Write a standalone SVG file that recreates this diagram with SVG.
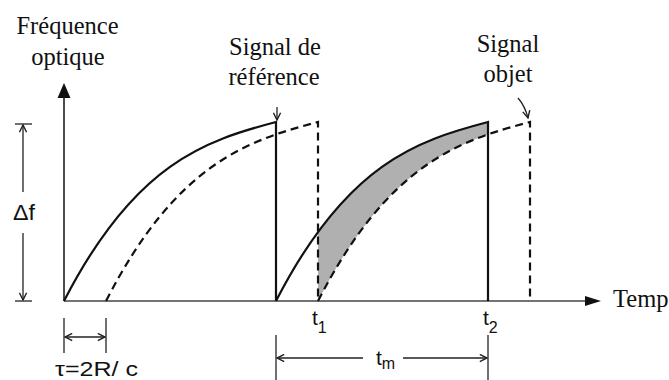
<svg xmlns="http://www.w3.org/2000/svg" width="669" height="380" viewBox="0 0 669 380">
<style>
.serif{font-family:"Liberation Serif","Times New Roman",serif;font-size:24.5px;fill:#111;text-anchor:middle}
.sans{font-family:"Liberation Sans",Arial,sans-serif;fill:#111}
.curve{fill:none;stroke:#111;stroke-width:2.2}
.dash{fill:none;stroke:#111;stroke-width:2.2;stroke-dasharray:8 5}
.thin{fill:none;stroke:#222;stroke-width:1.3}
.dim{fill:none;stroke:#222;stroke-width:1.3;marker-end:url(#open)}
</style>
<defs>
<marker id="open" viewBox="0 0 10 10" refX="9" refY="5" markerWidth="9" markerHeight="9" markerUnits="userSpaceOnUse" orient="auto-start-reverse">
<path d="M1,1 L9,5 L1,9" fill="none" stroke="#222" stroke-width="1.6"/>
</marker>
<clipPath id="band"><rect x="318" y="100" width="170" height="202"/></clipPath>
</defs>
<rect width="669" height="380" fill="#fff"/>

<g id="shade" clip-path="url(#band)">
<path d="M276,301 C346.7,163.2 417.3,140.6 488,122 L488,301 Z" fill="#b0b0b0"/>
<path d="M318,301 C388.7,163.2 459.3,140.6 530,122 L530,301 Z" fill="#fff"/>
</g>

<g id="axes">
<line x1="64" y1="301" x2="64" y2="95" stroke="#111" stroke-width="1.5"/>
<path d="M64,83 L70.5,98 L57.5,98 Z" fill="#111"/>
<line x1="64" y1="301" x2="588" y2="301" stroke="#444" stroke-width="1.5"/>
<path d="M601,301 L585,296 L585,306 Z" fill="#111"/>
</g>

<g id="signals">
<path class="curve" d="M64,301 C134.7,163.2 205.3,140.6 276,122 L276,301"/>
<path class="dash" d="M106,301 C176.7,163.2 247.3,140.6 318,122 L318,301"/>
<path class="curve" d="M276,301 C346.7,163.2 417.3,140.6 488,122 L488,301"/>
<path class="dash" d="M318,301 C388.7,163.2 459.3,140.6 530,122 L530,301"/>
</g>

<g id="connectors">
<line class="thin" x1="15" y1="124" x2="32" y2="124"/>
<line class="thin" x1="15" y1="301" x2="32" y2="301"/>
<line class="dim" x1="23" y1="192" x2="23" y2="125"/>
<line class="dim" x1="23" y1="233" x2="23" y2="300"/>
<line class="thin" x1="64" y1="318" x2="64" y2="353"/>
<line class="thin" x1="106" y1="318" x2="106" y2="353"/>
<line class="dim" x1="65" y1="337" x2="105" y2="337" style="marker-start:url(#open)"/>
<line class="thin" x1="276" y1="335" x2="276" y2="380"/>
<line class="thin" x1="488" y1="335" x2="488" y2="380"/>
<line class="dim" x1="363" y1="358" x2="277" y2="358"/>
<line class="dim" x1="403" y1="358" x2="487" y2="358"/>
<line class="dim" x1="277" y1="107" x2="277" y2="120"/>
<path class="dim" d="M518,98 Q525,106 528,118"/>
</g>

<g id="labels">
<text class="serif" x="67.5" y="34">Fréquence</text>
<text class="serif" x="68" y="65">optique</text>
<text class="serif" x="275" y="55">Signal de</text>
<text class="serif" x="274" y="85">référence</text>
<text class="serif" x="508" y="52">Signal</text>
<text class="serif" x="508" y="82">objet</text>
<text class="serif" x="613" y="307" style="text-anchor:start">Temp</text>
<text class="sans" x="13" y="220" font-size="22" textLength="22" lengthAdjust="spacingAndGlyphs">Δf</text>
<text class="sans" x="55" y="376" font-size="21" textLength="83" lengthAdjust="spacingAndGlyphs">τ=2R/ c</text>
<text class="sans" x="312" y="325" font-size="21">t<tspan font-size="16" dy="8">1</tspan></text>
<text class="sans" x="483" y="325" font-size="21">t<tspan font-size="16" dy="8">2</tspan></text>
<text class="sans" x="376" y="365" font-size="21">t<tspan font-size="16" dy="4">m</tspan></text>
</g>
</svg>
